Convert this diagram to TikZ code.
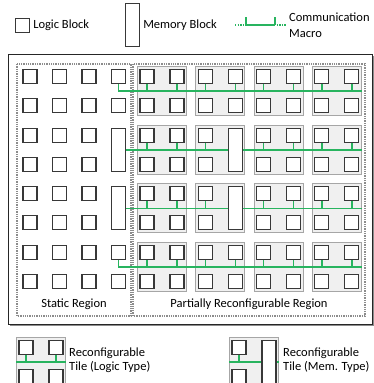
\documentclass[tikz,border=0pt]{standalone}
\usepackage{fontspec}
\setmainfont{Carlito}
\usetikzlibrary{positioning,calc,shadows}

\definecolor{macrogreen}{RGB}{40,180,95}

\begin{document}
\begin{tikzpicture}[x=1pt,y=-1pt,
  font=\fontsize{12.5}{14}\selectfont,
  blk/.style={draw=black!78,line width=1.1pt,fill=white,inner sep=0pt,
              minimum width=14pt,minimum height=14pt},
  mem/.style={blk,minimum height=43pt},
  tile/.style={draw=black!35,line width=1pt,fill=black!6,inner sep=0pt,
               minimum width=49pt,minimum height=49pt},
  region/.style={draw=black!45,line width=1.3pt,densely dotted},
  frame/.style={draw=black!85,line width=0.9pt,fill=white,
                drop shadow={shadow xshift=1.5pt,shadow yshift=-1.5pt,fill=black!45,opacity=1}},
  bus/.style={draw=macrogreen,line width=1.4pt},
  lbl/.style={align=left,anchor=west,inner sep=0pt}
]
\useasboundingbox (0,0) rectangle (374,383);
\clip (0,0) rectangle (374,383);

% ---- legend ----
\node[blk] (leg-logic) at (22.5,25.5) {};
\node[lbl,right=3pt of leg-logic] (leg-logic-txt) {Logic Block};
\node[mem] (leg-mem) at (132.5,25) {};
\node[lbl,right=3pt of leg-mem] (leg-mem-txt) {Memory Block};
\coordinate (cm-a) at (235,25);
\coordinate (cm-b) at (246,25);
\coordinate (cm-c) at (275,25);
\coordinate (cm-d) at (286,25);
\coordinate (cm-bt) at (246,17);
\coordinate (cm-ct) at (275,17);
\draw[bus,line width=1.3pt,dash pattern=on 1.3pt off 1.3pt] (cm-a)--(cm-d);
\draw[bus] (cm-b)--(cm-c);
\draw[bus] (cm-bt)--(cm-b);
\draw[bus] (cm-ct)--(cm-c);
\node[lbl,font=\fontsize{12.5}{15.5}\selectfont] (leg-cm-txt) at (289,25) {Communication\\Macro};

% ---- frame and regions ----
\draw[frame] (8,54) rectangle (372,324);
\draw[region] (17,64) rectangle (131,316);
\draw[region] (133,64) rectangle (365,316);
\node (lbl-static) at (74,304) {Static Region};
\node (lbl-pr) at (249,304) {Partially Reconfigurable Region};

% ---- static region ----
\foreach \r/\y in {1/76.5,2/105.5,3/135.5,4/164.5,5/193.9,6/222.9,7/252.6,8/281.6}{
  \foreach \c/\x in {1/30,2/59.5,3/89}{
    \node[blk] (s-\r-\c) at (\x,\y) {};
  }
}
\foreach \r/\y in {1/76.5,2/105.5,7/252.6,8/281.6}
  \node[blk] (s-\r-4) at (118.5,\y) {};
\node[mem] (sm-2) at (118.5,150) {};
\node[mem] (sm-3) at (118.5,208.4) {};

% ---- reconfigurable tiles ----
\foreach \i/\ty in {1/91,2/150,3/208.4,4/267.1}{
  \foreach \j in {1,...,4}{
    \node[tile] (t-\i-\j) at ({162+58.3*(\j-1)},\ty) {};
    \node[blk] (p-\i-\j-a) at ($(t-\i-\j)+(-15,-14.5)$) {};
    \node[blk] (p-\i-\j-c) at ($(t-\i-\j)+(-15,14.5)$) {};
    \pgfmathtruncatemacro\ismem{(\j==2)&&((\i==2)||(\i==3))}
    \ifnum\ismem=1
      \node[mem] (pm-\i) at ($(t-\i-\j)+(15,0)$) {};
    \else
      \node[blk] (p-\i-\j-b) at ($(t-\i-\j)+(15,-14.5)$) {};
      \node[blk] (p-\i-\j-d) at ($(t-\i-\j)+(15,14.5)$) {};
    \fi
  }
}

% ---- communication macros ----
\draw[bus] (s-1-4.south) |- (t-1-4.east);
\draw[bus] (sm-2.east)--(pm-2.west);
\draw[bus] (pm-2.east)--(t-2-4.east);
\draw[bus] (sm-3.east)--(pm-3.west);
\draw[bus] (pm-3.east)--(t-3-4.east);
\draw[bus] (s-7-4.south) |- (t-4-4.east);
\foreach \i in {1,...,4}{
  \foreach \j in {1,...,4}{
    \draw[bus] (p-\i-\j-a.south)--(p-\i-\j-a.south |- t-\i-\j.east);
    \pgfmathtruncatemacro\ismem{(\j==2)&&((\i==2)||(\i==3))}
    \ifnum\ismem=0
      \draw[bus] (p-\i-\j-b.south)--(p-\i-\j-b.south |- t-\i-\j.east);
    \fi
  }
}

% ---- tile legend ----
\node[tile] (leg-tl) at (41,362) {};
\node[blk] (leg-tl-a) at ($(leg-tl)+(-15,-14.5)$) {};
\node[blk] (leg-tl-b) at ($(leg-tl)+(15,-14.5)$) {};
\node[blk] (leg-tl-c) at ($(leg-tl)+(-15,14.5)$) {};
\node[blk] (leg-tl-d) at ($(leg-tl)+(15,14.5)$) {};
\draw[bus] (leg-tl.west)--(leg-tl.east);
\draw[bus] (leg-tl-a.south)--(leg-tl-a.south |- leg-tl.east);
\draw[bus] (leg-tl-b.south)--(leg-tl-b.south |- leg-tl.east);
\node[lbl] (leg-tl-txt) at (69,360) {Reconfigurable\\Tile (Logic Type)};

\node[tile] (leg-tm) at (254,362) {};
\node[blk] (leg-tm-a) at ($(leg-tm)+(-15,-14.5)$) {};
\node[blk] (leg-tm-c) at ($(leg-tm)+(-15,14.5)$) {};
\node[mem] (leg-tm-m) at ($(leg-tm)+(15,0)$) {};
\draw[bus] (leg-tm.west)--(leg-tm-m.west);
\draw[bus] (leg-tm-m.east)--(leg-tm.east);
\draw[bus] (leg-tm-a.south)--(leg-tm-a.south |- leg-tm.east);
\node[lbl] (leg-tm-txt) at (283,360) {Reconfigurable\\Tile (Mem. Type)};

\end{tikzpicture}
\end{document}
